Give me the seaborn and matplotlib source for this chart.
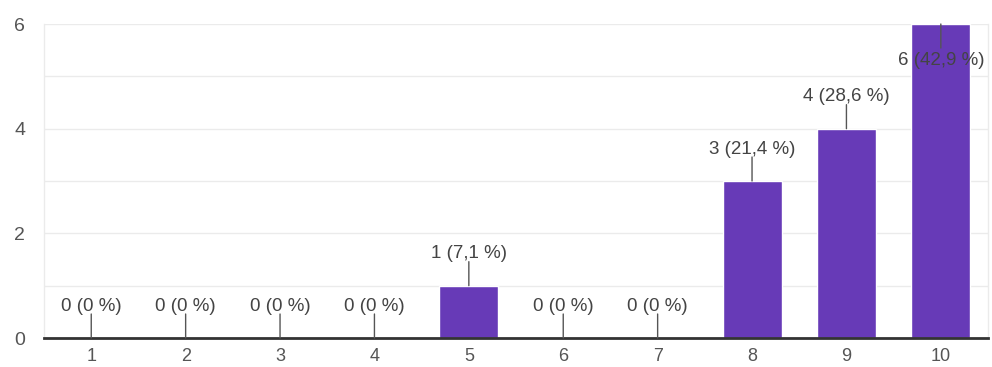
import matplotlib
matplotlib.use("Agg")
import matplotlib.pyplot as plt
import seaborn as sns
import pandas as pd
from matplotlib.ticker import MultipleLocator

# Data
categories = ["1", "2", "3", "4", "5", "6", "7", "8", "9", "10"]
counts = [0, 0, 0, 0, 1, 0, 0, 3, 4, 6]
labels = ["0 (0 %)", "0 (0 %)", "0 (0 %)", "0 (0 %)", "1 (7,1 %)",
          "0 (0 %)", "0 (0 %)", "3 (21,4 %)", "4 (28,6 %)", "6 (42,9 %)"]

df = pd.DataFrame({"score": categories, "count": counts})

sns.set_style("white")
plt.rcParams["font.family"] = ["Liberation Sans", "DejaVu Sans"]

fig = plt.figure(figsize=(9.92, 3.67), dpi=100)
ax = fig.add_axes([0.0444, 0.079, 0.9516, 0.8556])

sns.barplot(data=df, x="score", y="count", color="#673ab7", saturation=1,
            width=0.625, ax=ax, zorder=3)

ax.set_xlim(-0.5, 9.5)
ax.set_ylim(0, 6)
ax.yaxis.set_major_locator(MultipleLocator(2))
ax.yaxis.set_minor_locator(MultipleLocator(1))
ax.grid(axis="y", which="both", color="#ebebeb", linewidth=1, zorder=0)
ax.set_xlabel("")
ax.set_ylabel("")

for side in ["left", "right", "top"]:
    ax.spines[side].set_color("#ebebeb")
    ax.spines[side].set_linewidth(1)
ax.spines["top"].set_visible(False)
ax.spines["bottom"].set_color("#333333")
ax.spines["bottom"].set_linewidth(2)
ax.spines["bottom"].set_zorder(5)

ax.tick_params(axis="x", length=0, pad=7, labelsize=13, labelcolor="#555555")
ax.tick_params(axis="y", which="both", length=0, pad=13.5, labelsize=14,
               labelcolor="#555555")

# value labels with small leader lines
for i, (v, lab) in enumerate(zip(counts, labels)):
    if v >= 6:
        line_off, text_off = -24, -36
    else:
        line_off, text_off = 24, 32
    ax.annotate("", xy=(i, v), xytext=(0, line_off), textcoords="offset pixels",
                arrowprops=dict(arrowstyle="-", color="#555555", lw=1,
                                shrinkA=0, shrinkB=0), zorder=6)
    ax.annotate(lab, xy=(i, v), xytext=(0, text_off), textcoords="offset pixels",
                ha="center", va="center", fontsize=13.5, color="#444444",
                zorder=6)

fig.savefig("out.png", dpi=100)
